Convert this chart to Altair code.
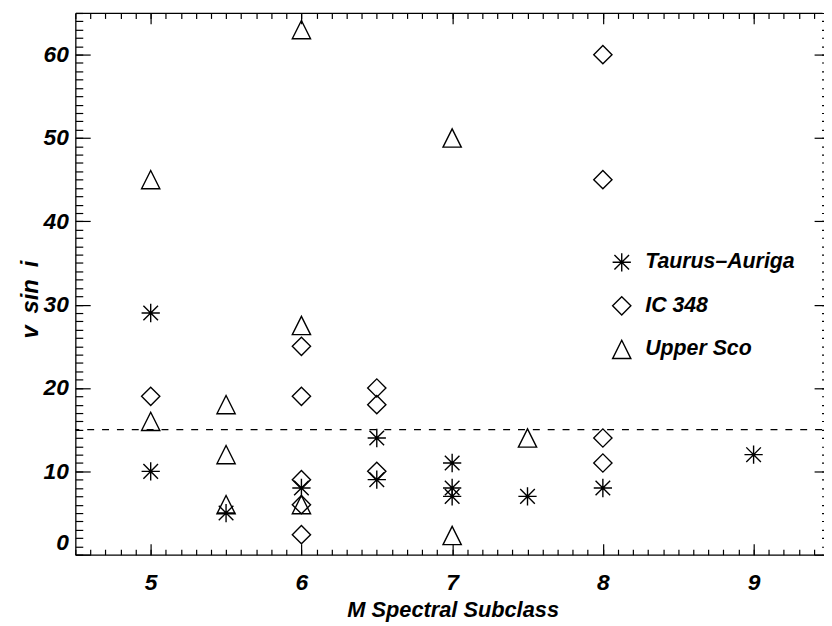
import altair as alt
import pandas as pd

# ---------------- data ----------------
groups = ["Taurus\u2013Auriga", "IC 348", "Upper Sco"]

taurus_x = [5, 5, 5.5, 6, 6.5, 6.5, 7, 7, 7, 7.5, 8, 9]
taurus_y = [29, 10, 5, 8, 14, 9, 11, 8, 7, 7, 8, 12]

ic348_x = [5, 6, 6, 6, 6, 6, 6.5, 6.5, 6.5, 8, 8, 8, 8]
ic348_y = [19, 25, 19, 9, 6, 2.4, 20, 18, 10, 60, 45, 14, 11]

usco_x = [5, 5, 5.5, 5.5, 5.5, 6, 6, 6, 7, 7, 7.5]
usco_y = [45, 16, 18, 12, 6, 63, 27.5, 6, 50, 2.3, 14]

threshold = [15]

x_domain = [4.5, 9.454]
y_domain = [0, 65]
x_major = [5, 6, 7, 8, 9]
x_minor = [round(4.5 + 0.1 * i, 1) for i in range(50)]
y_major = [0, 10, 20, 30, 40, 50, 60]
y_minor = list(range(0, 66))

x_title = "M Spectral Subclass"
y_title = "v\u2002sin\u2002i"

# ---------------- table ----------------
rows = []
for g, xs_, ys_ in zip(groups, [taurus_x, ic348_x, usco_x], [taurus_y, ic348_y, usco_y]):
    for xv, yv in zip(xs_, ys_):
        rows.append({"group": g, "subclass": xv, "vsini": yv})
df = pd.DataFrame(rows)
thr_df = pd.DataFrame({"v": threshold})

FONT = "Liberation Sans, Arial, Helvetica, sans-serif"

asterisk = "M0,-1L0,1M-1,0L1,0M-0.8,-0.8L0.8,0.8M-0.8,0.8L0.8,-0.8"
diamond = "M0,-1L1,0L0,1L-1,0Z"
triangle = "M0,-1L1,1L-1,1Z"

xs = alt.Scale(domain=x_domain, nice=False, zero=False)
ys = alt.Scale(domain=y_domain, nice=False, zero=False)

SYM = 340
SW = 1.4

# main points layer with labelled axes
points = alt.Chart(df).mark_point(filled=False, color="black", strokeWidth=SW, size=SYM, opacity=1).encode(
    x=alt.X("subclass:Q", scale=xs, axis=alt.Axis(
        values=x_major, format="d", ticks=False, grid=False,
        domain=True, domainColor="black", domainWidth=1.3,
        labelFont=FONT, labelFontSize=23, labelFontStyle="italic", labelFontWeight="bold",
        labelColor="black", labelPadding=17,
        title=x_title, titleFont=FONT, titleFontSize=22, titleFontStyle="italic",
        titleFontWeight="bold", titleColor="black", titlePadding=5, titleX=381)),
    y=alt.Y("vsini:Q", scale=ys, axis=alt.Axis(
        values=y_major, format="d", ticks=False, grid=False,
        domain=True, domainColor="black", domainWidth=1.3,
        labelFont=FONT, labelFontSize=23, labelFontStyle="italic", labelFontWeight="bold",
        labelColor="black", labelPadding=7, labelFlush=True,
        title=y_title, titleFont=FONT, titleFontSize=24, titleFontStyle="italic",
        titleFontWeight="bold", titleColor="black", titleX=-38, titleY=289,
        titleBaseline="alphabetic")),
    shape=alt.Shape("group:N", scale=alt.Scale(domain=groups, range=[asterisk, diamond, triangle]),
                    legend=alt.Legend(
                        title=None, orient="none", legendX=541, legendY=241,
                        symbolSize=SYM, symbolStrokeWidth=SW, symbolStrokeColor="black",
                        symbolFillColor="transparent", symbolType="circle",
                        labelFont=FONT, labelFontSize=21.5, labelFontStyle="italic",
                        labelFontWeight="bold", labelColor="black", labelOffset=13,
                        rowPadding=19, padding=0, labelLimit=400)),
)


def tick_layer(xaxis, yaxis):
    return alt.Chart(df).mark_point(opacity=0).encode(
        x=alt.X("subclass:Q", scale=xs, axis=xaxis),
        y=alt.Y("vsini:Q", scale=ys, axis=yaxis),
    )


def tick_axis(orient, values, size, offset):
    return alt.Axis(orient=orient, values=values, ticks=True, tickSize=size, tickWidth=1.2,
                    tickColor="black", domain=False, labels=False, grid=False, title=None,
                    offset=offset)


l_major = tick_layer(tick_axis("bottom", x_major, 11, -11), tick_axis("left", y_major, 15, -15))
l_minor = tick_layer(tick_axis("bottom", x_minor, 5.5, -5.5), tick_axis("left", y_minor, 7.5, -7.5))
t_major = tick_layer(tick_axis("top", x_major, 11, -11), tick_axis("right", y_major, 15, -8))
t_minor = tick_layer(tick_axis("top", x_minor, 5.5, -5.5), tick_axis("right", y_minor, 7.5, -0.5))
top_dom = alt.Chart(df).mark_point(opacity=0).encode(
    x=alt.X("subclass:Q", scale=xs, axis=alt.Axis(orient="top", ticks=False, labels=False,
                                                  domain=True, domainColor="black", domainWidth=1.3,
                                                  grid=False, title=None)),
    y=alt.Y("vsini:Q", scale=ys, axis=None),
)

rule = alt.Chart(thr_df).mark_rule(color="black", strokeWidth=1.1, strokeDash=[7, 8]).encode(
    y=alt.Y("v:Q", scale=ys, axis=None)
)

chart = alt.layer(rule, points, l_major, l_minor, t_major, t_minor, top_dom).resolve_axis(
    x="independent", y="independent"
).properties(
    width=754, height=547,
    autosize=alt.AutoSizeParams(type="none"),
    padding={"left": 68, "top": 2, "right": 2, "bottom": 70},
).configure_view(stroke="transparent")

chart.save("out.html", embed_options={"renderer": "svg", "actions": False})
